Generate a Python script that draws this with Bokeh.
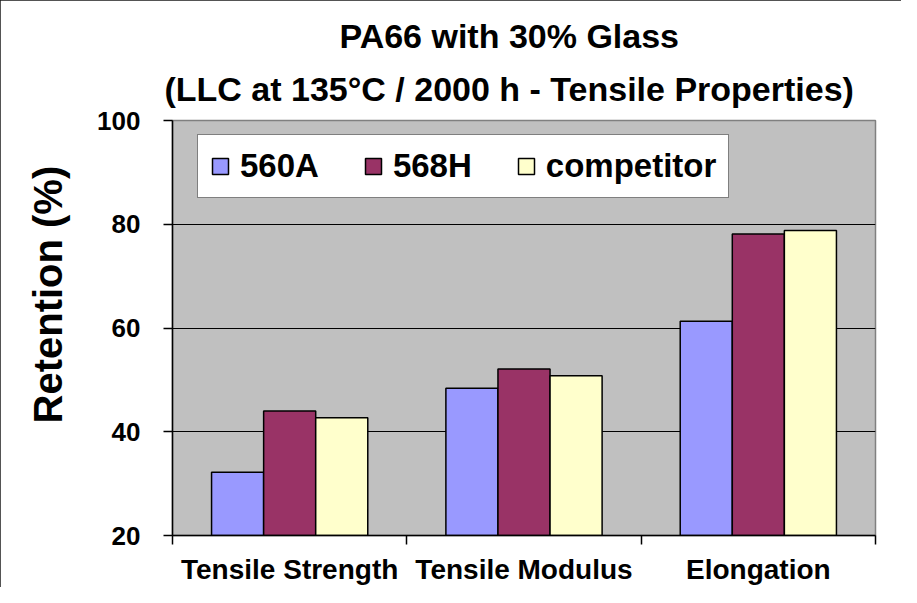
from bokeh.plotting import figure
from bokeh.models import (Range1d, LinearAxis, FixedTicker, Legend,
                          LegendItem, Title, ColumnDataSource)
from bokeh.embed import file_html
from bokeh.resources import INLINE

# ---------------- data ----------------
categories = ["Tensile Strength", "Tensile Modulus", "Elongation"]
series_names = ["560A", "568H", "competitor"]
v_560A = [32.2, 48.4, 61.3]
v_568H = [44.0, 52.1, 78.1]
v_competitor = [42.7, 50.8, 78.8]
y_ticks = [20, 40, 60, 80, 100]
title_line1 = "PA66 with 30% Glass"
title_line2 = "(LLC at 135\u00b0C / 2000 h - Tensile Properties)"
y_label = "Retention (%)"

# ---------------- styles ----------------
colors = ["#9999FF", "#993366", "#FFFFCC"]
FONT = "Liberation Sans"

n_cat = len(categories)
n_series = len(series_names)
series_values = [v_560A, v_568H, v_competitor]
centers = [i + 0.5 for i in range(n_cat)]          # category centres on the axis
bw = 1.0 / (n_series + 1.5)                         # Excel gap width 150 %
offsets = [(i - (n_series - 1) / 2) * bw for i in range(n_series)]

p = figure(x_range=Range1d(0, n_cat),
           y_range=Range1d(y_ticks[0], y_ticks[-1]),
           width=901, height=587, output_backend="svg", toolbar_location=None,
           x_axis_location=None,
           min_border_left=172, min_border_right=26,
           min_border_top=120, min_border_bottom=51)

p.background_fill_color = "#C0C0C0"
p.border_fill_color = "white"
p.outline_line_color = "#808080"
p.outline_line_width = 1.5
p.styles = {"outline": "2px solid #1a1a1a", "outline-offset": "-2px"}

# bars
renderers = []
for i in range(n_series):
    src = ColumnDataSource(dict(x=[c + offsets[i] for c in centers], top=series_values[i]))
    r = p.vbar(x="x", top="top", bottom=y_ticks[0], width=bw, source=src,
               fill_color=colors[i], line_color="black", line_width=1.5)
    renderers.append(r)

# y axis
ya = p.yaxis[0]
ya.ticker = FixedTicker(ticks=y_ticks)
ya.major_tick_out = 9
ya.major_tick_in = 0
ya.minor_tick_out = 0
ya.minor_tick_in = 0
ya.axis_line_color = "black"
ya.axis_line_width = 1.5
ya.major_tick_line_color = "black"
ya.major_tick_line_width = 1.5
ya.major_label_standoff = 23
ya.major_label_text_font = FONT
ya.major_label_text_font_size = "26px"
ya.major_label_text_font_style = "bold"
ya.major_label_text_color = "black"

p.ygrid.ticker = FixedTicker(ticks=y_ticks[1:-1])
p.ygrid.grid_line_color = "black"
p.ygrid.grid_line_width = 1.2
p.xgrid.grid_line_color = None

# x axis: labels at category centres, ticks at category boundaries
xa = LinearAxis(ticker=FixedTicker(ticks=centers,
                                   minor_ticks=[float(i) for i in range(n_cat + 1)]),
                major_label_overrides={c: name for c, name in zip(centers, categories)})
xa.major_tick_out = 0
xa.major_tick_in = 0
xa.minor_tick_out = 9
xa.minor_tick_in = 0
xa.minor_tick_line_color = "black"
xa.minor_tick_line_width = 1.5
xa.axis_line_color = "black"
xa.axis_line_width = 1.5
xa.major_label_standoff = 9
xa.major_label_text_font = FONT
xa.major_label_text_font_size = "28px"
xa.major_label_text_font_style = "bold"
xa.major_label_text_color = "black"
p.add_layout(xa, "below")

# legend
legend = Legend(items=[LegendItem(label=series_names[i], renderers=[renderers[i]])
                       for i in range(n_series)],
                orientation="horizontal", location=(25, 337),
                label_text_font=FONT, label_text_font_size="33px",
                label_text_font_style="bold", label_text_color="black",
                glyph_width=20, glyph_height=20, label_standoff=10,
                spacing=44, padding=12, margin=0,
                border_line_color="black", border_line_width=1.5,
                background_fill_color="white", background_fill_alpha=1.0)
p.add_layout(legend)

# titles (second line added first: it sits next to the plot area)
p.add_layout(Title(text=title_line2, align="left", offset=-8, standoff=26,
                   text_font=FONT, text_font_size="34px", text_font_style="bold",
                   text_color="black"), "above")
p.add_layout(Title(text=title_line1, align="left", offset=167, standoff=0,
                   text_font=FONT, text_font_size="34px", text_font_style="bold",
                   text_color="black"), "above")

# y axis title
p.add_layout(Title(text=y_label, align="left", offset=112, standoff=46,
                   vertical_align="top",
                   text_font=FONT, text_font_size="40px", text_font_style="bold",
                   text_color="black"), "left")

open("out.html", "w").write(file_html(p, INLINE))
